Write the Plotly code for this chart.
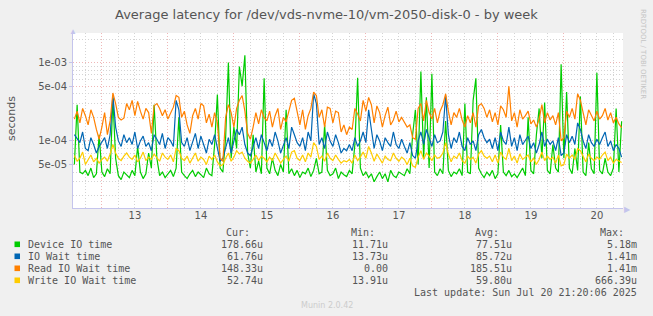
import plotly.graph_objects as go
import pandas as pd
import math

# ---------------- data (hourly, microseconds) ----------------
start = "2025-07-12 14:00"
n_points = 200

device_io_us = [
    50, 290, 40, 38, 42, 36, 45, 34, 38, 120,
    40, 35, 44, 38, 350, 60, 36, 32, 40, 37,
    34, 42, 36, 85, 40, 33, 38, 70, 45, 290,
    60, 36, 40, 34, 38, 42, 35, 45, 200, 40,
    36, 33, 38, 42, 35, 40, 37, 34, 45, 38,
    36, 90, 390, 45, 40, 110, 1000, 60, 150, 80,
    890, 500, 1240, 70, 45, 120, 40, 55, 38, 630,
    45, 38, 60, 42, 36, 50, 40, 250, 38, 44,
    36, 42, 34, 40, 38, 45, 35, 42, 60, 38,
    40, 160, 42, 36, 38, 45, 33, 40, 37, 35,
    42, 38, 90, 640, 45, 36, 40, 34, 38, 30,
    35, 40, 33, 38, 30, 42, 36, 34, 40, 38,
    36, 44, 38, 120, 250, 50, 770, 60, 360, 45,
    720, 40, 36, 44, 38, 180, 42, 35, 40, 38,
    44, 36, 300, 40, 38, 330, 630, 45, 38, 34,
    40, 36, 42, 33, 38, 160, 40, 36, 42, 35,
    38, 34, 40, 45, 36, 200, 42, 38, 120, 260,
    60, 310, 42, 38, 90, 45, 40, 950, 60, 420,
    45, 38, 80, 42, 370, 40, 36, 95, 44, 38,
    740, 42, 38, 60, 40, 36, 45, 260, 40, 178,
]

io_wait_us = [
    120, 105, 95, 130, 80, 75, 110, 90, 70, 85,
    95, 110, 80, 120, 380, 150, 100, 85, 120, 95,
    110, 90, 130, 80, 100, 115, 85, 95, 75, 120,
    105, 90, 125, 80, 110, 100, 85, 330, 250, 95,
    85, 110, 75, 100, 125, 80, 115, 90, 70, 105,
    90, 120, 80, 55, 60, 85, 110, 70, 100, 140,
    120, 150, 90, 70, 65, 85, 110, 80, 120, 95,
    75, 105, 85, 130, 100, 70, 90, 110, 80, 150,
    120, 95, 85, 110, 75, 130, 100, 400, 300, 90,
    110, 80, 130, 100, 85, 120, 95, 70, 80, 75,
    90, 75, 110, 85, 100, 130, 95, 250, 140, 80,
    120, 100, 75, 110, 95, 85, 130, 90, 80, 105,
    85, 70, 95, 65, 60, 100, 130, 90, 140, 110,
    85, 120, 95, 100, 130, 380, 120, 80, 110, 95,
    130, 85, 75, 110, 90, 100, 75, 120, 140, 110,
    95, 105, 80, 110, 75, 130, 100, 90, 150, 85,
    110, 75, 120, 90, 100, 115, 80, 95, 70, 90,
    130, 85, 105, 90, 100, 75, 110, 65, 70, 120,
    95, 115, 90, 170, 140, 100, 80, 120, 95, 85,
    105, 90, 110, 130, 85, 100, 75, 90, 80, 62,
]

read_wait_us = [
    190, 240, 170, 260, 210, 160, 250, 200, 140, 105,
    150, 230, 120, 180, 410, 300, 200, 185, 195, 300,
    250, 330, 210, 320, 240, 190, 260, 230, 125, 280,
    300, 260, 210, 250, 190, 230, 270, 380, 360, 200,
    240, 160, 125, 210, 260, 190, 300, 280, 170, 220,
    150, 230, 170, 60, 55, 200, 290, 230, 150, 260,
    330, 380, 240, 125, 105, 150, 230, 165, 250, 200,
    180, 240, 150, 210, 260, 140, 200, 175, 240, 330,
    350, 230, 160, 250, 140, 210, 260, 420, 380, 200,
    250, 150, 270, 260, 170, 240, 230, 130, 160, 120,
    150, 140, 260, 220, 180, 330, 240, 360, 290, 170,
    280, 230, 150, 210, 270, 160, 185, 240, 175, 200,
    175, 150, 160, 110, 105, 260, 300, 180, 330, 230,
    190, 260, 170, 240, 290, 400, 240, 160, 230, 200,
    260, 185, 150, 210, 170, 230, 150, 280, 300, 260,
    200, 250, 175, 230, 160, 280, 250, 200, 500, 180,
    230, 150, 250, 190, 210, 240, 165, 185, 150, 190,
    290, 170, 230, 185, 210, 160, 230, 100, 110, 240,
    200, 260, 190, 400, 330, 220, 160, 250, 210, 180,
    240, 190, 210, 260, 185, 230, 170, 200, 165, 148,
]

write_wait_us = [
    65, 55, 60, 72, 50, 58, 66, 54, 60, 52,
    58, 62, 55, 68, 90, 70, 60, 56, 64, 70,
    62, 58, 66, 54, 60, 72, 56, 62, 58, 68,
    60, 55, 70, 62, 58, 66, 54, 80, 75, 60,
    56, 64, 52, 60, 70, 55, 62, 58, 50, 64,
    58, 66, 54, 48, 50, 60, 70, 55, 62, 75,
    68, 72, 60, 55, 52, 58, 66, 56, 64, 60,
    54, 62, 56, 70, 60, 52, 58, 64, 55, 72,
    75, 60, 56, 66, 54, 70, 62, 95, 85, 58,
    64, 55, 70, 60, 56, 66, 58, 52, 56, 54,
    58, 52, 66, 56, 62, 72, 60, 85, 70, 55,
    68, 60, 52, 64, 58, 56, 70, 60, 55, 62,
    58, 50, 60, 48, 46, 62, 75, 58, 70, 64,
    56, 66, 60, 62, 70, 95, 68, 54, 64, 60,
    70, 56, 52, 64, 58, 62, 52, 68, 75, 64,
    60, 64, 54, 66, 52, 72, 62, 58, 80, 56,
    64, 52, 68, 58, 62, 66, 54, 60, 50, 58,
    72, 56, 64, 58, 62, 52, 66, 48, 50, 68,
    60, 66, 58, 80, 75, 62, 54, 68, 60, 56,
    62, 58, 66, 72, 56, 62, 52, 58, 55, 53,
]

series_names = ["Device IO time", "IO Wait time", "Read IO Wait time", "Write IO Wait time"]
series_colors = ["#00cc00", "#0066b3", "#ff8000", "#ffcc00"]
cur_vals = ["178.66u", "61.76u", "148.33u", "52.74u"]
min_vals = ["11.71u", "13.73u", "0.00", "13.91u"]
avg_vals = ["77.51u", "85.72u", "185.51u", "59.80u"]
max_vals = ["5.18m", "1.41m", "1.41m", "666.39u"]

day_labels = ["13", "14", "15", "16", "17", "18", "19", "20"]
y_tick_vals = [5e-5, 1e-4, 5e-4, 1e-3]
y_tick_text = ["5e-05", "1e-04", "5e-04", "1e-03"]

title_text = "Average latency for /dev/vds-nvme-10/vm-2050-disk-0 - by week"
last_update = "Last update: Sun Jul 20 21:20:06 2025"

# ---------------- layout geometry ----------------
W_FIG, H_FIG = 653, 316
L, R, T, B = 73, 623, 33, 208
PW, PH = R - L, B - T


def px(x):
    return (x - L) / PW


def py(y):
    return (B - y) / PH


times = pd.date_range(start, periods=n_points, freq="h")
all_series = [device_io_us, io_wait_us, read_wait_us, write_wait_us]

x_start = pd.Timestamp("2025-07-12 13:30")
x_end = pd.Timestamp("2025-07-20 21:30")
midnights = list(pd.date_range("2025-07-13", "2025-07-20", freq="D"))
noons = list(pd.date_range("2025-07-13 12:00", "2025-07-20 12:00", freq="D"))
quarter_days = [t for t in pd.date_range("2025-07-12 18:00", "2025-07-20 18:00", freq="6h")
                if t.hour in (6, 18)]

y_lo, y_hi = 1.39e-5, 2.39e-3
minor_y = []
for e in range(-5, -2):
    for d in range(1, 10):
        v = d * 10 ** e
        if y_lo < v < y_hi and not any(abs(v - m) / m < 1e-6 for m in y_tick_vals):
            minor_y.append(v)

fig = go.Figure()
# dummy traces to activate overlay grid axes
fig.add_trace(go.Scatter(x=[times[0]], y=[None], xaxis="x3", yaxis="y",
                         showlegend=False, hoverinfo="skip"))
fig.add_trace(go.Scatter(x=[times[0]], y=[None], xaxis="x", yaxis="y2",
                         showlegend=False, hoverinfo="skip"))
fig.add_trace(go.Scatter(x=[times[0]], y=[None], xaxis="x2", yaxis="y",
                         showlegend=False, hoverinfo="skip"))

for name, color, vals in zip(series_names, series_colors, all_series):
    fig.add_trace(go.Scatter(
        x=times, y=[v * 1e-6 for v in vals], mode="lines", name=name,
        line=dict(color=color, width=1.2), showlegend=False, hoverinfo="skip",
    ))

axis_font = dict(family="DejaVu Sans", size=10, color="#555555")
red_grid = "rgba(235,165,165,0.8)"
gray_grid = "rgba(212,212,212,1)"
dots = "1px,2px"
axis_line = "#c4c4ec"

fig.update_layout(
    width=W_FIG, height=H_FIG,
    margin=dict(l=L, r=W_FIG - R, t=T, b=H_FIG - B, pad=0),
    paper_bgcolor="#f0f0f0", plot_bgcolor="#ffffff",
    showlegend=False,
    xaxis=dict(
        type="date", range=[x_start, x_end],
        tickmode="array", tickvals=midnights, showticklabels=False,
        showgrid=True, gridcolor=red_grid, griddash=dots, gridwidth=1,
        ticks="", zeroline=False,
        showline=True, linecolor=axis_line, linewidth=1,
    ),
    xaxis2=dict(
        type="date", overlaying="x", matches="x", side="bottom",
        tickmode="array", tickvals=noons, ticktext=day_labels,
        showgrid=True, gridcolor=gray_grid, griddash=dots, gridwidth=1,
        ticks="", tickfont=axis_font, zeroline=False, showline=False,
    ),
    xaxis3=dict(
        type="date", overlaying="x", matches="x", side="bottom",
        tickmode="array", tickvals=quarter_days, showticklabels=False,
        showgrid=True, gridcolor=gray_grid, griddash=dots, gridwidth=1,
        ticks="", zeroline=False, showline=False,
    ),
    yaxis=dict(
        type="log", range=[math.log10(y_lo), math.log10(y_hi)],
        tickmode="array", tickvals=y_tick_vals, ticktext=y_tick_text,
        tickfont=axis_font, ticks="outside", ticklen=3, tickcolor=axis_line,
        showgrid=True, gridcolor=red_grid, griddash=dots, gridwidth=1,
        zeroline=False, showline=True, linecolor=axis_line, linewidth=1,
    ),
    yaxis2=dict(
        type="log", overlaying="y", matches="y", side="left",
        tickmode="array", tickvals=minor_y, showticklabels=False,
        showgrid=True, gridcolor=gray_grid, griddash=dots, gridwidth=1,
        ticks="", zeroline=False, showline=False,
    ),
)

ann = []
ann.append(dict(text=title_text, x=px(326), y=py(14), xref="paper", yref="paper",
                showarrow=False, xanchor="center", yanchor="middle",
                font=dict(family="DejaVu Sans", size=13, color="#555555")))
ann.append(dict(text="seconds", x=px(11), y=py(119), xref="paper", yref="paper",
                showarrow=False, textangle=-90, xanchor="center", yanchor="middle",
                font=dict(family="DejaVu Sans", size=11, color="#555555")))
ann.append(dict(text="RRDTOOL / TOBI OETIKER", x=px(643), y=py(54), xref="paper",
                yref="paper", showarrow=False, textangle=90, xanchor="center",
                yanchor="middle",
                font=dict(family="DejaVu Sans", size=7, color="#c4c4c4")))
ann.append(dict(text="\u25B6", x=px(627), y=py(208), xref="paper", yref="paper",
                showarrow=False, xanchor="center", yanchor="middle",
                font=dict(size=8, color=axis_line)))
ann.append(dict(text="\u25B2", x=px(73), y=py(30), xref="paper", yref="paper",
                showarrow=False, xanchor="center", yanchor="middle",
                font=dict(size=8, color=axis_line)))

mono = dict(family="DejaVu Sans Mono", size=10, color="#555555")
for label, xr in zip(["Cur:", "Min:", "Avg:", "Max:"], [252, 377, 501, 626]):
    ann.append(dict(text=label, x=px(xr), y=py(232.5), xref="paper", yref="paper",
                    showarrow=False, xanchor="right", yanchor="middle", font=mono))
row_y = [244.3, 256.3, 268.3, 280.3]
shapes = []
for i, name in enumerate(series_names):
    yy = row_y[i]
    shapes.append(dict(type="rect", xref="paper", yref="paper",
                       x0=px(14.5), x1=px(20), y0=py(yy - 2.8), y1=py(yy + 2.8),
                       fillcolor=series_colors[i], line=dict(width=0)))
    ann.append(dict(text=name, x=px(26), y=py(yy), xref="paper", yref="paper",
                    showarrow=False, xanchor="left", yanchor="middle", font=mono))
    for val, xr in zip([cur_vals[i], min_vals[i], avg_vals[i], max_vals[i]],
                       [265, 390, 514, 639]):
        ann.append(dict(text=val, x=px(xr), y=py(yy), xref="paper", yref="paper",
                        showarrow=False, xanchor="right", yanchor="middle", font=mono))
ann.append(dict(text=last_update, x=px(639), y=py(292.3), xref="paper", yref="paper",
                showarrow=False, xanchor="right", yanchor="middle", font=mono))
ann.append(dict(text="Munin 2.0.42", x=px(327), y=py(305.7), xref="paper", yref="paper",
                showarrow=False, xanchor="center", yanchor="middle",
                font=dict(family="DejaVu Sans", size=8, color="#cccccc")))

fig.update_layout(annotations=ann, shapes=shapes)
fig.write_html("out.html")
